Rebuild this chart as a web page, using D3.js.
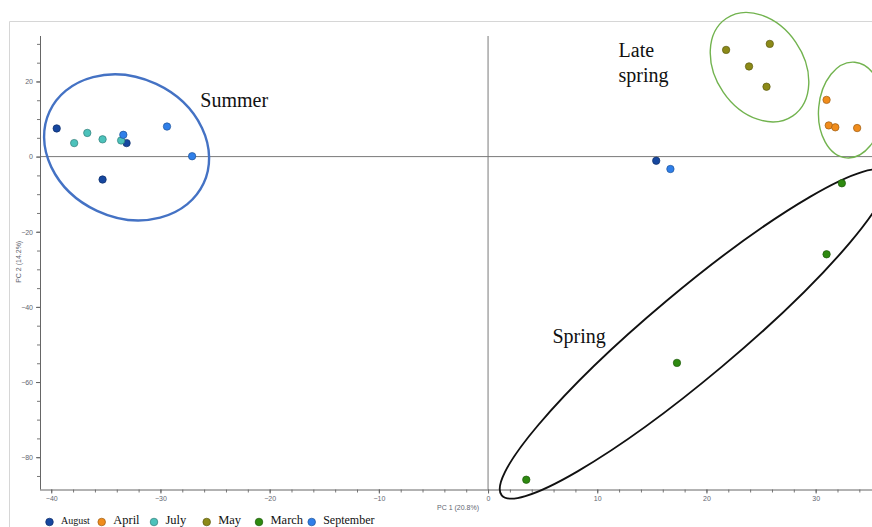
<!DOCTYPE html>
<html>
<head>
<meta charset="utf-8">
<script src="https://cdn.jsdelivr.net/npm/d3@7"></script>
<style>
  html, body { margin: 0; padding: 0; background: #fff; }
  svg { display: block; }
</style>
</head>
<body>
<svg id="chart" width="872" height="527"></svg>
<script>
// PCA score plot: PC1 vs PC2, samples coloured by month of collection.
const months = ["August", "April", "July", "May", "March", "September"];
const monthColors = ["#16479f", "#f08c1c", "#4cc2bb", "#8c8a18", "#2e8a10", "#2f7fe9"];

// Scores per month (PC1, PC2)
const augustPC1 = [-39.5, -35.3, -33.1, 15.4];
const augustPC2 = [7.5, -6.1, 3.6, -1.1];
const aprilPC1 = [31.0, 31.2, 31.8, 33.8];
const aprilPC2 = [15.1, 8.3, 7.8, 7.6];
const julyPC1 = [-37.9, -36.7, -35.3, -33.6];
const julyPC2 = [3.6, 6.3, 4.6, 4.3];
const mayPC1 = [21.8, 25.8, 23.9, 25.5];
const mayPC2 = [28.4, 30.0, 24.0, 18.6];
const marchPC1 = [32.4, 31.0, 17.3, 3.5];
const marchPC2 = [-7.1, -26.0, -54.9, -86.0];
const septemberPC1 = [-33.4, -29.4, -27.1, 16.7];
const septemberPC2 = [5.8, 8.0, 0.1, -3.3];

// Axis ticks
const xTicks = [-40, -30, -20, -10, 0, 10, 20, 30];
const yTicks = [20, 0, -20, -40, -60, -80];

// Season groupings drawn as ellipses (centre in score units)
const groupNames = ["Summer", "Late spring (May)", "Late spring (April)", "Spring"];
const groupCentersPC1 = [-33.1, 24.86, 33.2, 18.86];
const groupCentersPC2 = [2.45, 23.8, 12.4, -47.2];

// Group labels (anchor in score units)
const labelLines = [["Summer"], ["Late", "spring"], ["Spring"]];
const labelPC1 = [-26.35, 11.95, 5.9];
const labelPC2 = [13.2, 26.5, -49.7];

const seriesPC1 = [augustPC1, aprilPC1, julyPC1, mayPC1, marchPC1, septemberPC1];
const seriesPC2 = [augustPC2, aprilPC2, julyPC2, mayPC2, marchPC2, septemberPC2];

const svg = d3.select("#chart");
const W = 872, H = 527;

const plotLeft = 40, plotRight = 872, plotTop = 36, plotBottom = 489.5;
const x = d3.scaleLinear().domain([-41.03, 35.16]).range([plotLeft, plotRight]);
const y = d3.scaleLinear().domain([32.1, -88.6]).range([plotTop, plotBottom]);

// Outer frame
svg.append("path")
  .attr("d", `M9.5,${H} V21.5 H${W}`)
  .attr("fill", "none").attr("stroke", "#d6d6d6").attr("stroke-width", 1);

// Zero lines
svg.append("line")
  .attr("x1", x(0)).attr("x2", x(0)).attr("y1", plotTop).attr("y2", plotBottom)
  .attr("stroke", "#7a7a7a").attr("stroke-width", 1);
svg.append("line")
  .attr("x1", plotLeft).attr("x2", plotRight).attr("y1", y(0)).attr("y2", y(0))
  .attr("stroke", "#7a7a7a").attr("stroke-width", 1);

const tickFont = "'Liberation Sans', Arial, sans-serif";
const axisText = "#626670";

// X axis: minor ticks every 2, labelled ticks every 10
const gx = svg.append("g").attr("transform", `translate(0,${plotBottom})`);
gx.call(d3.axisBottom(x).tickValues(d3.range(-40, 36, 2)).tickSize(3).tickFormat(""))
  .call(g => g.select(".domain").remove())
  .call(g => g.selectAll("line").attr("stroke", "#777"));
const gx2 = svg.append("g").attr("transform", `translate(0,${plotBottom})`);
gx2.call(d3.axisBottom(x).tickValues(xTicks).tickSize(4).tickPadding(3))
  .call(g => g.select(".domain").attr("d", `M${plotLeft},0.5H${plotRight}`).attr("stroke", "#666"))
  .call(g => g.selectAll("line").attr("stroke", "#666"))
  .call(g => g.selectAll("text").attr("fill", axisText).style("font", `7px ${tickFont}`));

// Y axis: minor ticks every 5, labelled ticks every 20
const gy = svg.append("g").attr("transform", `translate(${plotLeft},0)`);
gy.call(d3.axisLeft(y).tickValues(d3.range(-85, 31, 5)).tickSize(3).tickFormat(""))
  .call(g => g.select(".domain").remove())
  .call(g => g.selectAll("line").attr("stroke", "#777"));
const gy2 = svg.append("g").attr("transform", `translate(${plotLeft},0)`);
gy2.call(d3.axisLeft(y).tickValues(yTicks).tickSize(4).tickPadding(3))
  .call(g => g.select(".domain").attr("d", `M0.5,${plotTop}V${plotBottom}`).attr("stroke", "#666"))
  .call(g => g.selectAll("line").attr("stroke", "#666"))
  .call(g => g.selectAll("text").attr("fill", axisText).style("font", `7px ${tickFont}`));

// Axis titles
svg.append("text")
  .attr("x", 437).attr("y", 510)
  .attr("fill", axisText).style("font", `7px ${tickFont}`)
  .text("PC 1 (20.8%)");
svg.append("text")
  .attr("transform", `translate(21,${y(-28)}) rotate(-90)`)
  .attr("text-anchor", "middle")
  .attr("fill", axisText).style("font", `7px ${tickFont}`)
  .text("PC 2 (14.2%)");

// Group ellipses: semi-axes in pixels and rotation in degrees
const groupShapes = [
  { rx: 85, ry: 70, rot: 25, stroke: "#4472c4", width: 2.4 },
  { rx: 59, ry: 44, rot: 55.6, stroke: "#72b34f", width: 1.4 },
  { rx: 32, ry: 48, rot: 5, stroke: "#72b34f", width: 1.4 },
  { rx: 251, ry: 43, rot: -40, stroke: "#111", width: 1.9 }
];
groupNames.forEach((name, i) => {
  const s = groupShapes[i];
  svg.append("ellipse")
    .attr("class", "group")
    .attr("data-name", name)
    .attr("cx", 0).attr("cy", 0)
    .attr("rx", s.rx).attr("ry", s.ry)
    .attr("transform", `translate(${x(groupCentersPC1[i])},${y(groupCentersPC2[i])}) rotate(${s.rot})`)
    .attr("fill", "none").attr("stroke", s.stroke).attr("stroke-width", s.width);
});

// Group labels
const serif = "'Liberation Serif', 'Times New Roman', serif";
labelLines.forEach((lines, i) => {
  const t = svg.append("text")
    .attr("x", x(labelPC1[i])).attr("y", y(labelPC2[i]))
    .attr("fill", "#111").style("font", `20px ${serif}`);
  lines.forEach((ln, j) => {
    t.append("tspan").attr("x", x(labelPC1[i])).attr("dy", j === 0 ? 0 : 24.5).text(ln);
  });
});

// Points
months.forEach((m, i) => {
  const pts = seriesPC1[i].map((v, k) => [v, seriesPC2[i][k]]);
  const c = d3.color(monthColors[i]);
  svg.append("g").attr("class", "series").selectAll("circle")
    .data(pts).join("circle")
    .attr("cx", d => x(d[0])).attr("cy", d => y(d[1]))
    .attr("r", 3.7)
    .attr("fill", monthColors[i])
    .attr("stroke", c.darker(1.2))
    .attr("stroke-width", 0.7);
});

// Legend
const legendX = [49.5, 101.7, 154, 206.7, 259, 311.7];
const legendFont = [10, 12.5, 12.5, 12.5, 12.5, 12];
const lg = svg.append("g");
months.forEach((m, i) => {
  const c = d3.color(monthColors[i]);
  lg.append("circle")
    .attr("cx", legendX[i]).attr("cy", 522)
    .attr("r", 3.8)
    .attr("fill", monthColors[i])
    .attr("stroke", c.darker(1.2)).attr("stroke-width", 0.7);
  lg.append("text")
    .attr("x", legendX[i] + 11.5).attr("y", 524)
    .attr("fill", "#111")
    .style("font", `${legendFont[i]}px ${serif}`)
    .text(m);
});
</script>
</body>
</html>
